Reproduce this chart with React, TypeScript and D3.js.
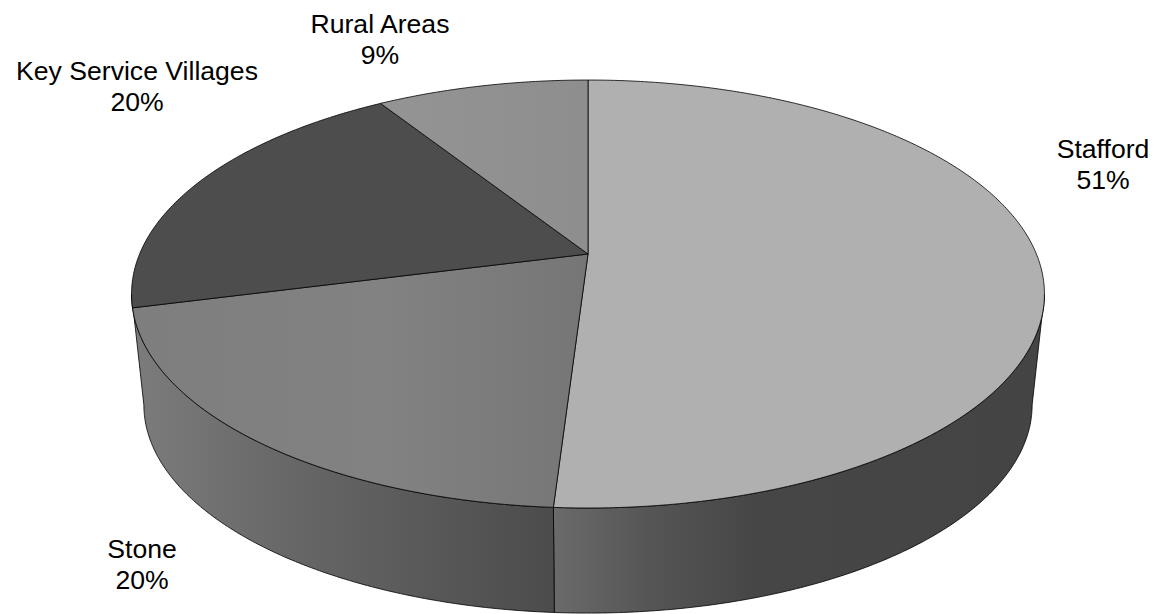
import React from "react";
import * as d3 from "d3";

// Share of development by settlement tier, in percent
const places = ["Stafford", "Stone", "Key Service Villages", "Rural Areas"];
const shares = [51, 20, 20, 9];

const WIDTH = 1153;
const HEIGHT = 614;

// Perspective set-up of the disc
const cx = 588;
const cy = 254;
const spanX = 448.4;
const spanY = 206.5;
const tilt = 0.187;
const vanishY = 4400;
const floorScale = 0.973;

const topFill = ["#b0b0b0", "url(#stoneTop)", "#4d4d4d", "url(#ruralTop)"];
const wallFill = ["url(#staffordWall)", "url(#stoneWall)", "#7b7b7b", "#7b7b7b"];
const labelAt: [number, number][] = [
  [1103, 158],
  [142, 558],
  [137, 80],
  [380, 33],
];

type Pt = [number, number];

// Angle is measured clockwise from the far side of the disc.
const project = (a: number, r = 1): Pt => {
  const u = r * Math.sin(a);
  const v = -r * Math.cos(a);
  const w = 1 - tilt * v;
  return [cx + (spanX * u) / w, cy + (spanY * v) / w];
};

// The lower rim is the upper rim pulled toward the vanishing point.
const drop = ([x, y]: Pt): Pt => [
  cx + (x - cx) * floorScale,
  vanishY + (y - vanishY) * floorScale,
];

const arcPoints = (a0: number, a1: number): Pt[] => {
  const steps = Math.max(2, Math.ceil(Math.abs(a1 - a0) / 0.01));
  return d3.range(steps + 1).map((i) => project(a0 + ((a1 - a0) * i) / steps));
};

const path = d3.line<Pt>();

const slices = d3
  .pie<number>()
  .sort(null)
  .startAngle(0)
  .endAngle(2 * Math.PI)(shares);

// Part of the rim that faces the viewer; a sliver at its end joins the wall before it
const rimFrom = Math.acos(-tilt);
const rimTo = 2 * Math.PI - rimFrom;
const sliver = 0.1;

const stops = (id: string, x1: number, x2: number, list: [number, string][]) => (
  <linearGradient id={id} key={id} gradientUnits="userSpaceOnUse" x1={x1} x2={x2} y1={0} y2={0}>
    {list.map(([o, c]) => (
      <stop key={o} offset={o} stopColor={c} />
    ))}
  </linearGradient>
);

export default function App() {
  return (
    <svg
      width={WIDTH}
      height={HEIGHT}
      viewBox={`0 0 ${WIDTH} ${HEIGHT}`}
      style={{ position: "absolute", left: 0, top: 0, display: "block", background: "#fff" }}
    >
      <defs>
        {stops("staffordWall", 551, 1044, [
          [0, "#6b6b6b"],
          [0.2, "#555555"],
          [0.42, "#464646"],
          [1, "#444444"],
        ])}
        {stops("stoneWall", 132, 551, [
          [0, "#7c7c7c"],
          [0.4, "#666666"],
          [1, "#4c4c4c"],
        ])}
        {stops("stoneTop", 132, 588, [
          [0, "#7e7e7e"],
          [0.55, "#828282"],
          [1, "#767676"],
        ])}
        {stops("ruralTop", 380, 588, [
          [0, "#949494"],
          [1, "#8e8e8e"],
        ])}
      </defs>

      {/* Side walls, drawn first so the top surface overlaps them */}
      {slices.map((s, i) => {
        const a0 = Math.max(s.startAngle, rimFrom);
        if (rimTo - a0 < sliver) return null;
        const a1 = s.endAngle + sliver >= rimTo ? rimTo : Math.min(s.endAngle, rimTo);
        if (a1 <= a0) return null;
        const upper = arcPoints(a0, a1);
        const lower = upper.map(drop).reverse();
        return (
          <path
            key={places[i]}
            d={path([...upper, ...lower])! + "Z"}
            fill={wallFill[i]}
            stroke="#000"
            strokeWidth={0.8}
            strokeLinejoin="round"
          />
        );
      })}

      {/* Top surface */}
      {slices.map((s, i) => (
        <path
          key={places[i]}
          d={path([project(0, 0), ...arcPoints(s.startAngle, s.endAngle)])! + "Z"}
          fill={topFill[i]}
          stroke="#000"
          strokeWidth={0.8}
          strokeLinejoin="round"
        />
      ))}

      {/* Category and share labels */}
      {places.map((name, i) => (
        <text
          key={name}
          x={labelAt[i][0]}
          y={labelAt[i][1]}
          textAnchor="middle"
          fontFamily="'Liberation Sans', Arial, sans-serif"
          fontSize={26.6}
          fill="#000"
        >
          <tspan x={labelAt[i][0]}>{name}</tspan>
          <tspan x={labelAt[i][0]} dy={31}>
            {d3.format(".0f")(shares[i])}%
          </tspan>
        </text>
      ))}
    </svg>
  );
}
